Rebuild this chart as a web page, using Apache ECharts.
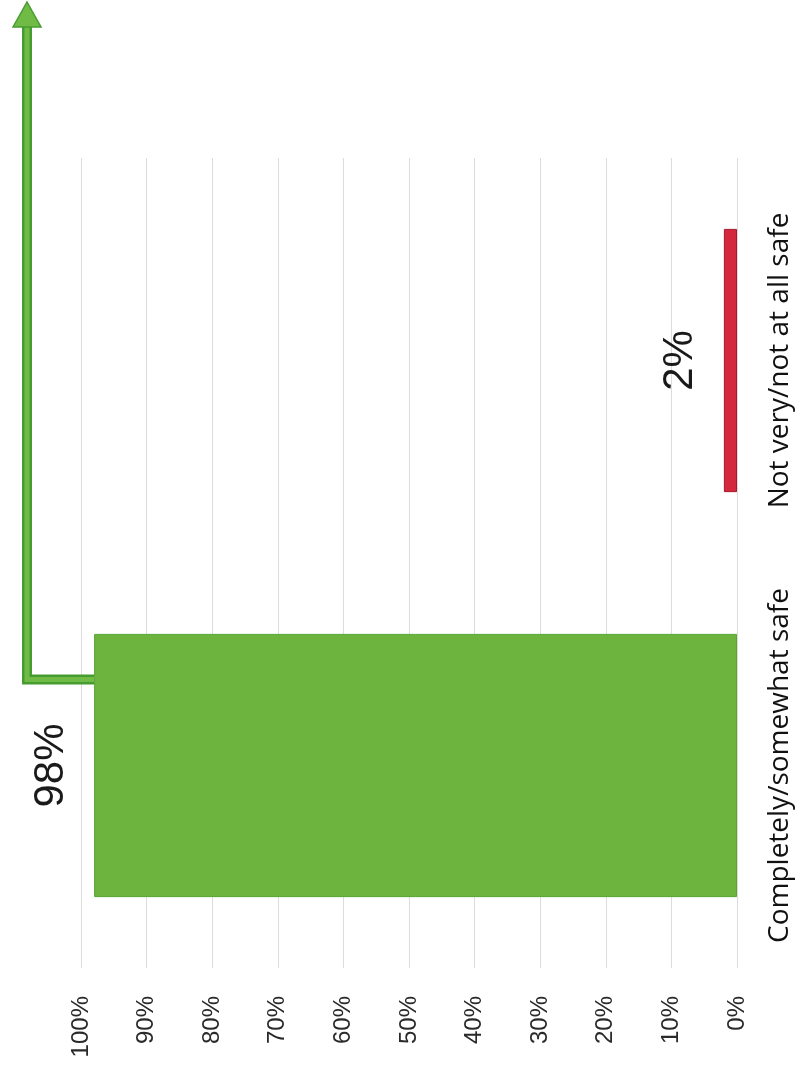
<!DOCTYPE html>
<html>
<head>
<meta charset="utf-8">
<title>Safety</title>
<script src="https://cdn.jsdelivr.net/npm/echarts@6/dist/echarts.min.js"></script>
<style>
	html, body { margin: 0; padding: 0; background: #ffffff; }
	#chart { width: 796px; height: 1068px; }
</style>
</head>
<body>
<div id="chart"></div>
<script>
// chart data
var categories = ["Completely/somewhat safe", "Not very/not at all safe"];
var values = [98, 2];
var barColors = ["#6db43f", "#d3283d"];
var barBorders = ["#58a530", "#a5192c"];

var tickMin = 0;
var tickMax = 100;
var tickStep = 10;

(function()
{
	var chart = echarts.init(document.getElementById("chart"));

	var data = [];
	for(var i=0; i<values.length; i++)
	{
		data.push({
			value: values[i],
			itemStyle: { color: barColors[i], borderColor: barBorders[i], borderWidth: 1 }
		});
	}

	var option =
	{
		backgroundColor: "#ffffff",
		animation: false,
		grid: { left: 81, right: 59, top: 158, bottom: 100, outerBoundsMode: "none", containLabel: false },
		xAxis:
		{
			type: "value",
			inverse: true,
			position: "bottom",
			min: tickMin,
			max: tickMax,
			interval: tickStep,
			axisLine: { show: false },
			axisTick: { show: false },
			splitLine: { show: true, lineStyle: { color: "#dcdcdc", width: 1 } },
			axisLabel:
			{
				rotate: 90,
				margin: 28,
				formatter: "{value}%",
				fontFamily: "Liberation Sans",
				fontSize: 24,
				color: "#2a2a2a"
			}
		},
		yAxis:
		{
			type: "category",
			position: "right",
			data: categories,
			axisLine: { show: false },
			axisTick: { show: false },
			splitLine: { show: false },
			axisLabel:
			{
				interval: 0,
				hideOverlap: false,
				rotate: 90,
				margin: 29,
				fontFamily: "Open Sans",
				fontSize: 28,
				color: "#111111"
			}
		},
		series:
		[
			{
				type: "bar",
				data: data,
				barCategoryGap: "35%",
				label:
				{
					show: true,
					position: "left",
					distance: 22,
					rotate: 90,
					align: "center",
					verticalAlign: "bottom",
					formatter: "{c}%",
					fontFamily: "Liberation Sans",
					fontSize: 42,
					color: "#1a1a1a"
				}
			}
		]
	};

	chart.setOption(option);

	// arrow from the big bar up to the top of the page
	var end = chart.convertToPixel({ xAxisIndex: 0, yAxisIndex: 0 }, [values[0], categories[0]]);
	var elbowY = end[1] - 86;
	var shaftX = 27;
	var headY = 27;
	var pts = [[end[0], elbowY], [shaftX, elbowY], [shaftX, headY]];

	chart.setOption({
		graphic:
		[
			{ type: "polyline", shape: { points: pts }, style: { stroke: "#479c31", lineWidth: 10, fill: null, lineJoin: "miter" }, z: 10 },
			{ type: "polyline", shape: { points: pts }, style: { stroke: "#6fbb46", lineWidth: 5, fill: null, lineJoin: "miter" }, z: 11 },
			{ type: "polygon", shape: { points: [[shaftX - 14, headY], [shaftX, 2], [shaftX + 14, headY]] }, style: { fill: "#6fbb46", stroke: "#479c31", lineWidth: 1.5 }, z: 12 }
		]
	});
})();
</script>
</body>
</html>
